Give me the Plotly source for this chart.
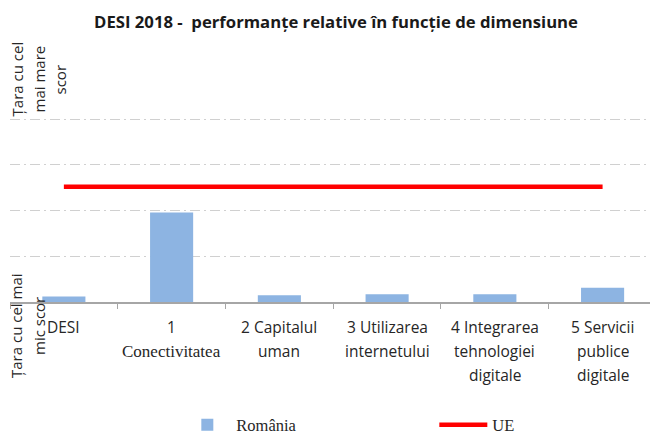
import plotly.graph_objects as go

# ---- data ----
categories = ["DESI", "1 Conectivitatea", "2 Capitalul uman", "3 Utilizarea internetului",
              "4 Integrarea tehnologiei digitale", "5 Servicii publice digitale"]
label_lines = [["DESI"], ["1", "Conectivitatea"], ["2 Capitalul", "uman"],
               ["3 Utilizarea", "internetului"], ["4 Integrarea", "tehnologiei", "digitale"],
               ["5 Servicii", "publice", "digitale"]]
romania = [0.12, 1.96, 0.15, 0.17, 0.17, 0.31]
ue = [2.52, 2.52, 2.52, 2.52, 2.52, 2.52]
title_text = "DESI 2018 -\u00a0 performanțe relative în funcție de dimensiune"
y_top_label = ["Țara cu cel", "mai mare", "scor"]
y_bottom_label = ["Țara cu cel mai", "mic scor"]

SANS = "Open Sans"
SERIF = "Liberation Serif"
TXT = "#262626"

fig = go.Figure()
fig.add_trace(go.Bar(x=categories, y=romania, name="România", width=0.4,
                     marker=dict(color="#8DB4E2", line=dict(width=0))))
fig.add_trace(go.Scatter(x=categories, y=ue, name="UE", mode="lines",
                         line=dict(color="#FF0000", width=4.5)))

annotations = []
# x category labels
for cat, lines in zip(categories, label_lines):
    for j, ln in enumerate(lines):
        fam, size = (SERIF, 17) if ln == "Conectivitatea" else (SANS, 15.5)
        annotations.append(dict(x=cat, xref="x", y=0, yref="y", text=ln, showarrow=False,
                                xanchor="center", yanchor="middle", yshift=-(25 + 24 * j),
                                font=dict(family=fam, size=size, color=TXT)))
# y labels (rotated)
for ln, px in zip(y_top_label, [17, 39, 60]):
    annotations.append(dict(x=0, xref="paper", xshift=px - 10, y=5, yref="y", yshift=-6,
                            text=ln, showarrow=False, textangle=-90,
                            xanchor="center", yanchor="middle",
                            font=dict(family=SANS, size=15, color=TXT)))
for ln, px in zip(y_bottom_label, [16, 39]):
    annotations.append(dict(x=0, xref="paper", xshift=px - 10, y=0, yref="y", yshift=-24,
                            text=ln, showarrow=False, textangle=-90,
                            xanchor="center", yanchor="middle",
                            font=dict(family=SANS, size=15, color=TXT)))

fig.update_layout(
    width=650, height=436,
    margin=dict(l=10, r=0, t=73, b=134, autoexpand=False),
    paper_bgcolor="white", plot_bgcolor="white",
    title=dict(text="<b>" + title_text + "</b>", x=336 / 650, xanchor="center",
               y=1 - 22 / 436, yanchor="middle",
               font=dict(family=SANS, size=16.7, color="#1a1a1a")),
    xaxis=dict(type="category", range=[-0.5, 5.44], showgrid=False,
               showline=True, linecolor="#a6a6a6", linewidth=1.5,
               ticks="outside", ticklen=5, tickcolor="#a6a6a6", tickwidth=1.2,
               tickson="boundaries", showticklabels=False, fixedrange=True),
    yaxis=dict(range=[0, 5.01], dtick=1, showgrid=True, gridcolor="#d0d0d0", gridwidth=1,
               griddash="10px,4px,2px,4px", showticklabels=False, zeroline=False,
               showline=False, ticks="", fixedrange=True),
    showlegend=True,
    legend=dict(orientation="h", x=0.263, xanchor="left", y=(302 - 425) / 229, yanchor="middle",
                font=dict(family=SERIF, size=16.5, color=TXT), itemwidth=48,
                entrywidth=193, entrywidthmode="pixels", bgcolor="rgba(0,0,0,0)"),
    annotations=annotations,
    bargap=0.6,
)

fig.write_html("out.html", config={"displayModeBar": False},
               post_script="document.body.style.margin='0';document.body.style.padding='0';")
